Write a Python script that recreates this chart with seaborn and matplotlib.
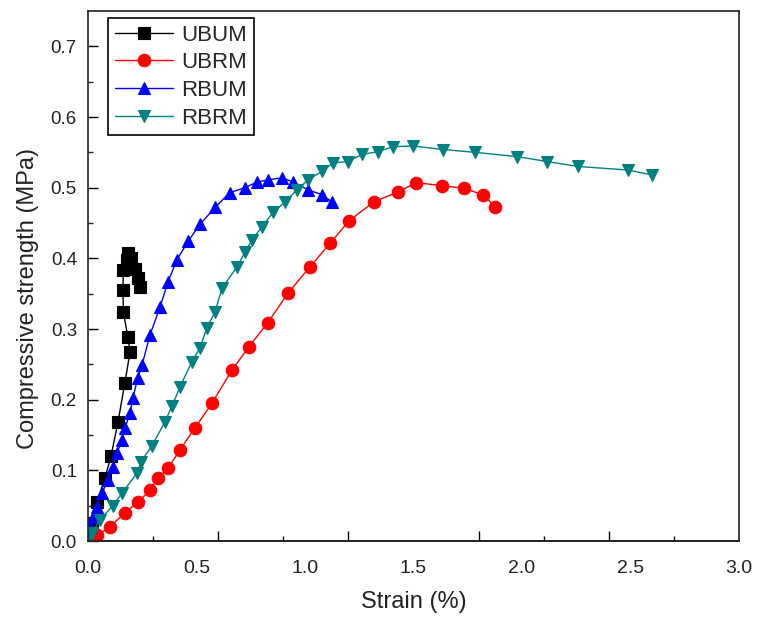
import numpy as np
import pandas as pd
import matplotlib
matplotlib.use("Agg")
import matplotlib.pyplot as plt
import seaborn as sns

# ---- data ----
ubum_x = [0.0, 0.018, 0.041, 0.078, 0.106, 0.138, 0.170, 0.194, 0.184, 0.163, 0.161,
          0.163, 0.178, 0.184, 0.200, 0.217, 0.230, 0.240]
ubum_y = [0.0, 0.025, 0.055, 0.089, 0.120, 0.168, 0.224, 0.268, 0.288, 0.324, 0.355,
          0.384, 0.398, 0.408, 0.400, 0.385, 0.372, 0.360]

ubrm_x = [0.0, 0.041, 0.101, 0.170, 0.230, 0.286, 0.323, 0.369, 0.424, 0.493, 0.571,
          0.664, 0.742, 0.829, 0.922, 1.023, 1.115, 1.203, 1.318, 1.429, 1.512, 1.631,
          1.733, 1.820, 1.876]
ubrm_y = [0.0, 0.008, 0.020, 0.040, 0.055, 0.072, 0.089, 0.103, 0.129, 0.160, 0.195,
          0.242, 0.275, 0.309, 0.351, 0.388, 0.421, 0.453, 0.480, 0.494, 0.507, 0.503,
          0.499, 0.490, 0.473]

rbum_x = [0.0, 0.009, 0.023, 0.041, 0.065, 0.092, 0.115, 0.134, 0.157, 0.170, 0.194,
          0.207, 0.230, 0.249, 0.286, 0.332, 0.369, 0.410, 0.461, 0.516, 0.585, 0.654,
          0.724, 0.779, 0.829, 0.894, 0.945, 1.014, 1.078, 1.124]
rbum_y = [0.0, 0.020, 0.034, 0.048, 0.068, 0.086, 0.105, 0.125, 0.143, 0.160, 0.181,
          0.203, 0.231, 0.249, 0.292, 0.331, 0.367, 0.398, 0.424, 0.448, 0.472, 0.493,
          0.500, 0.508, 0.511, 0.514, 0.508, 0.497, 0.490, 0.480]

rbrm_x = [0.0, 0.018, 0.055, 0.115, 0.157, 0.226, 0.244, 0.295, 0.355, 0.387, 0.424,
          0.479, 0.516, 0.548, 0.585, 0.618, 0.687, 0.724, 0.756, 0.802, 0.853, 0.908,
          0.963, 1.014, 1.078, 1.129, 1.198, 1.263, 1.336, 1.406, 1.498, 1.636, 1.783,
          1.977, 2.115, 2.258, 2.488, 2.599]
rbrm_y = [0.0, 0.011, 0.030, 0.050, 0.068, 0.096, 0.112, 0.135, 0.169, 0.191, 0.218,
          0.254, 0.273, 0.302, 0.324, 0.358, 0.388, 0.409, 0.426, 0.445, 0.465, 0.480,
          0.497, 0.511, 0.523, 0.535, 0.537, 0.547, 0.551, 0.558, 0.559, 0.554, 0.550,
          0.544, 0.537, 0.530, 0.525, 0.518]

series_names = ["UBUM", "UBRM", "RBUM", "RBRM"]
series_x = [ubum_x, ubrm_x, rbum_x, rbrm_x]
series_y = [ubum_y, ubrm_y, rbum_y, rbrm_y]
colors = ["#000000", "#ff0000", "#0000ff", "#008080"]
markers = ["s", "o", "^", "v"]

x_label_ticks = [0.0, 0.5, 1.0, 1.5, 2.0, 2.5, 3.0]
x_label_texts = ["0.0", "0.5", "1.0", "1.5", "2.0", "2.5", "3.0"]
y_ticks = [0.0, 0.1, 0.2, 0.3, 0.4, 0.5, 0.6, 0.7]

# ---- plotting ----
sns.set_theme(style="ticks")
plt.rcParams["font.family"] = ["Liberation Sans", "DejaVu Sans"]

fig = plt.figure(figsize=(7.58, 6.19), dpi=100)
ax = fig.add_axes([88 / 758, 78 / 619, (739 - 88) / 758, (541 - 11) / 619])

for name, xs, ys, c, m in zip(series_names, series_x, series_y, colors, markers):
    df = pd.DataFrame({"x": xs, "y": ys})
    sns.lineplot(data=df, x="x", y="y", ax=ax, sort=False, estimator=None,
                 color=c, marker=m, markersize=9, markeredgecolor=c,
                 markeredgewidth=0.8, linewidth=1.0, label=name)

ax.set_xlim(0, 3.0)
ax.set_ylim(0, 0.75)

# x tick labels at 0.5 steps (no marks), tick marks at 0.3 / 0.6 steps as in the reference
ax.set_xticks(x_label_ticks)
ax.set_xticklabels(x_label_texts)
ax.tick_params(axis="x", which="major", length=0, pad=14, labelsize=14, colors="#222222")
ax.set_xticks([0.3, 0.9, 1.5, 2.1, 2.7], minor=True)
ax.tick_params(axis="x", which="minor", direction="in", length=3.5, width=1.0, color="black")
sec = ax.secondary_xaxis("bottom")
sec.set_xticks([0.6, 1.2, 1.8, 2.4])
sec.set_xticklabels([])
sec.tick_params(axis="x", which="major", direction="in", length=7, width=1.0, color="black")
sec.tick_params(axis="x", which="minor", length=0)

ax.set_yticks(y_ticks)
ax.set_yticklabels([f"{v:.1f}" for v in y_ticks])
ax.set_yticks(np.arange(0.05, 0.75, 0.1), minor=True)
ax.tick_params(axis="y", which="major", direction="in", length=7, width=1.0,
               labelsize=13.5, colors="black", labelcolor="#222222", pad=8)
ax.tick_params(axis="y", which="minor", direction="in", length=3.5, width=1.0)

for s in ax.spines.values():
    s.set_linewidth(1.2)
    s.set_color("#222222")
    s.set_visible(True)

ax.set_xlabel("Strain (%)", fontsize=17, labelpad=10, color="#222222")
ax.set_ylabel("Compressive strength (MPa)", fontsize=17, color="#222222")
ax.yaxis.set_label_coords(-0.075, 0.458)

leg = ax.legend(loc="upper left", bbox_to_anchor=(0.031, 0.987), fontsize=16,
                frameon=True, fancybox=False, edgecolor="black", framealpha=1,
                handlelength=2.6, handletextpad=0.4, borderpad=0.3,
                labelspacing=0.3, borderaxespad=0)
leg.get_frame().set_linewidth(1.2)

fig.savefig("out.png", dpi=100)
